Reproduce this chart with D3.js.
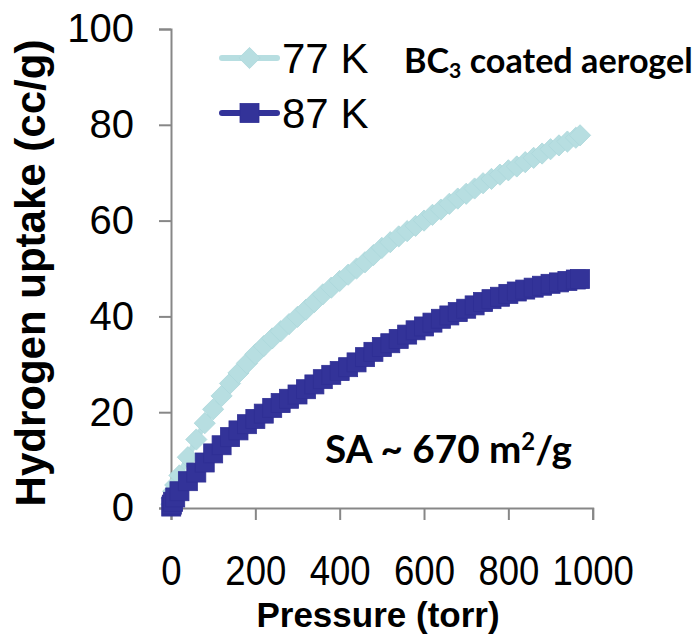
<!DOCTYPE html>
<html>
<head>
<meta charset="utf-8">
<script src="https://cdn.jsdelivr.net/npm/d3@7"></script>
<style>
  body { margin: 0; background: #fff; }
  svg { display: block; }
</style>
</head>
<body>
<div id="chart"></div>
<script>
// values
const pressure = [0.5, 2, 5, 10,
  20, 40, 60, 80, 100, 120, 140, 160, 180, 200,
  220, 240, 260, 280, 300, 320, 340, 360, 380, 400,
  420, 440, 460, 480, 500, 520, 540, 560, 580, 600,
  620, 640, 660, 680, 700, 720, 740, 760, 780, 800,
  820, 840, 860, 880, 900, 920, 940, 960, 970];

const uptake77 = [0.8, 2.0, 3.5, 4.8,
  6.8, 10.6, 14.3, 17.7, 20.6, 23.4, 26.0, 28.2, 30.2, 32.1,
  33.8, 35.4, 36.9, 38.4, 39.9, 41.4, 43.0, 44.6, 46.0, 47.4,
  48.7, 50.0, 51.3, 52.8, 54.3, 55.5, 56.7, 57.8, 58.9, 60.0,
  61.2, 62.3, 63.5, 64.6, 65.6, 66.7, 67.8, 68.7, 69.6, 70.5,
  71.3, 72.2, 73.1, 74.0, 74.9, 75.7, 76.5, 77.3, 77.8];

const uptake87 = [0.3, 0.7, 1.3, 2.2,
  3.5, 5.6, 7.4, 9.5, 11.4, 13.1, 14.8, 16.2, 17.5, 18.6,
  19.7, 20.9, 21.9, 22.8, 23.7, 24.8, 25.8, 26.9, 27.8, 28.6,
  29.4, 30.4, 31.5, 32.6, 33.6, 34.4, 35.3, 36.2, 37.1, 37.9,
  38.7, 39.5, 40.2, 40.9, 41.6, 42.3, 43.0, 43.6, 44.1, 44.7,
  45.2, 45.6, 46.0, 46.4, 46.8, 47.1, 47.4, 47.7, 47.8];

const seriesNames = ["77 K", "87 K"];
const xTicks = [0, 200, 400, 600, 800, 1000];
const yTicks = [0, 20, 40, 60, 80, 100];

const width = 700, height = 636;
const font = "'Liberation Sans', Arial, sans-serif";
const noteFont = "Lato, 'Open Sans', sans-serif";
const light = "#b7dee1", dark = "#333399", axisGrey = "#878787";

const svg = d3.select("#chart").append("svg")
    .attr("width", width)
    .attr("height", height);

const x = d3.scaleLinear().domain([0, 1000]).range([171, 592.7]);
const y = d3.scaleLinear().domain([0, 100]).range([508, 29]);

// axes
const xAxis = svg.append("g")
    .attr("transform", `translate(0,${y(0)})`)
    .call(d3.axisBottom(x).tickValues(xTicks).tickSize(12).tickPadding(35).tickFormat(d3.format("d")));
xAxis.selectAll("text")
    .attr("font-family", font)
    .attr("font-size", 42)
    .attr("fill", "#000")
    .attr("transform", "scale(0.87,1)");

const yAxis = svg.append("g")
    .attr("transform", `translate(${x(0)},0)`)
    .call(d3.axisLeft(y).tickValues(yTicks).tickSize(12).tickPadding(25));
yAxis.selectAll("text")
    .attr("font-family", font)
    .attr("font-size", 40)
    .attr("fill", "#000");

svg.selectAll(".domain, .tick line")
    .attr("stroke", axisGrey)
    .attr("stroke-width", 2);

// axis titles
svg.append("text")
    .attr("x", 378)
    .attr("y", 627)
    .attr("text-anchor", "middle")
    .attr("font-family", font)
    .attr("font-weight", "bold")
    .attr("font-size", 35)
    .text("Pressure (torr)");

svg.append("text")
    .attr("transform", "translate(45,273) rotate(-90)")
    .attr("text-anchor", "middle")
    .attr("font-family", font)
    .attr("font-weight", "bold")
    .attr("font-size", 42)
    .text("Hydrogen uptake (cc/g)");

// series
const line = d3.line().x(d => x(d[0])).y(d => y(d[1]));
const data77 = pressure.map((p, i) => [p, uptake77[i]]);
const data87 = pressure.map((p, i) => [p, uptake87[i]]);

function diamond(g, cx, cy) {
    g.append("rect")
        .attr("x", -7.5).attr("y", -7.5)
        .attr("width", 15).attr("height", 15)
        .attr("transform", `translate(${cx},${cy}) rotate(45)`)
        .attr("fill", light)
        .attr("stroke", "#aed8dc")
        .attr("stroke-width", 0.8);
}
function square(g, cx, cy) {
    g.append("rect")
        .attr("x", cx - 9.5).attr("y", cy - 9.5)
        .attr("width", 19).attr("height", 19)
        .attr("fill", dark)
        .attr("stroke", "#2f2f94")
        .attr("stroke-width", 0.8);
}

const g77 = svg.append("g");
g77.append("path").datum(data77)
    .attr("d", line).attr("fill", "none")
    .attr("stroke", light).attr("stroke-width", 6);
data77.forEach(d => diamond(g77, x(d[0]), y(d[1])));

const g87 = svg.append("g");
g87.append("path").datum(data87)
    .attr("d", line).attr("fill", "none")
    .attr("stroke", dark).attr("stroke-width", 6);
data87.forEach(d => square(g87, x(d[0]), y(d[1])));

// legend
const legend = svg.append("g");
[58, 113].forEach((ly, i) => {
    legend.append("line")
        .attr("x1", 222).attr("x2", 277)
        .attr("y1", ly).attr("y2", ly)
        .attr("stroke", i === 0 ? light : dark)
        .attr("stroke-width", 6)
        .attr("stroke-linecap", "round");
    if (i === 0) diamond(legend, 249.5, ly);
    else square(legend, 249.5, ly);
    legend.append("text")
        .attr("x", 282)
        .attr("y", ly + 15)
        .attr("font-family", font)
        .attr("font-size", 42)
        .text(seriesNames[i]);
});

// notes, sized to the width they take in the picture
function fitWidth(t, target) {
    const w = t.node().getComputedTextLength();
    t.attr("font-size", 40 * target / w);
}

const note1 = svg.append("text")
    .attr("x", 404).attr("y", 73)
    .attr("font-family", noteFont)
    .attr("font-weight", "bold")
    .attr("font-size", 40);
note1.append("tspan").text("BC");
note1.append("tspan").attr("font-size", "0.62em").attr("dy", "0.22em").text("3");
note1.append("tspan").attr("dy", "-0.14em").text(" coated aerogel");
fitWidth(note1, 289);

const note2 = svg.append("text")
    .attr("x", 325).attr("y", 463)
    .attr("font-family", noteFont)
    .attr("font-weight", "bold")
    .attr("font-size", 40);
note2.append("tspan").text("SA ~ 670 m");
note2.append("tspan").attr("font-size", "0.62em").attr("dy", "-0.55em").text("2");
note2.append("tspan").attr("dy", "0.34em").text("/g");
fitWidth(note2, 247);
</script>
</body>
</html>
